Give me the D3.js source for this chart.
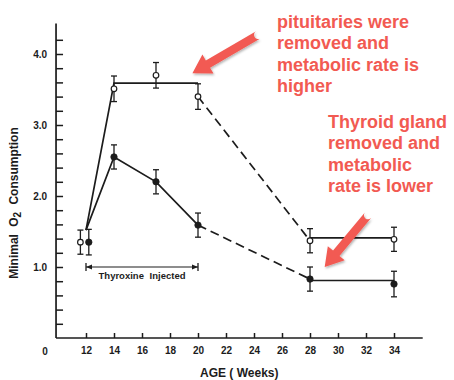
<!DOCTYPE html>
<html>
<head>
<meta charset="utf-8">
<script src="https://cdn.jsdelivr.net/npm/d3@7"></script>
<style>
  html, body { margin: 0; padding: 0; background: #fff; }
  svg { display: block; }
</style>
</head>
<body>
<div id="chart"></div>
<script>
// ---- data ----
const xTickWeeks = [12, 14, 16, 18, 20, 22, 24, 26, 28, 30, 32, 34];
const yMinorTicks = [0.2,0.4,0.6,0.8,1.0,1.2,1.4,1.6,1.8,2.0,2.2,2.4,2.6,2.8,3.0,3.2,3.4,3.6,3.8,4.0,4.2];
const yLabelTicks = [1.0, 2.0, 3.0, 4.0];

// open circles (pituitaries removed)
const openWeeks = [11.6, 14, 17, 20, 28, 34];
const openMeans = [1.35, 3.51, 3.70, 3.40, 1.37, 1.39];
const openErr   = [0.17, 0.18, 0.18, 0.18, 0.17, 0.17];
const openSolidA = [[12, 1.52], [14, 3.59], [20, 3.59]];
const openDashed = [[20, 3.40], [28, 1.37]];
const openSolidB = [[28, 1.41], [34, 1.41]];

// filled circles (thyroid removed)
const filledWeeks = [12.2, 14, 17, 20, 28, 34];
const filledMeans = [1.35, 2.55, 2.20, 1.59, 0.83, 0.76];
const filledErr   = [0.18, 0.17, 0.17, 0.17, 0.17, 0.18];
const filledSolidA = [[12, 1.52], [14, 2.55], [17, 2.20], [20, 1.59]];
const filledDashed = [[20, 1.59], [28, 0.83]];
const filledSolidB = [[28, 0.81], [34, 0.81]];

// thyroxine injection period
const injectionRange = [12, 20];
const injectionLevel = 1.0;

// annotations
const note1Lines = ["pituitaries were", "removed and", "metabolic rate is", "higher"];
const note2Lines = ["Thyroid gland", "removed and", "metabolic", "rate is lower"];
// arrows in data units: [tailWeek, tailValue, tipWeek, tipValue]
const arrows = [[24.3, 4.27, 19.6, 3.73], [32.15, 1.73, 29.05, 1.00]];

// ---- chart ----
const W = 454, H = 380;
const ink = "#1c1c1c";
const red = "#f25a52";

const svg = d3.select("#chart").append("svg").attr("width", W).attr("height", H);

const defs = svg.append("defs");
const f = defs.append("filter").attr("id", "shadow").attr("x", "-30%").attr("y", "-30%").attr("width", "160%").attr("height", "160%");
f.append("feDropShadow").attr("dx", 1).attr("dy", 1.5).attr("stdDeviation", 1.2).attr("flood-color", "#000").attr("flood-opacity", 0.3);

const x = d3.scaleLinear().domain([12, 34]).range([86, 394]);
const y = d3.scaleLinear().domain([0, 4]).range([338, 54]);

const axisX0 = x(9.86), axisX1 = x(36.05);
const axisY0 = y(0), axisYTop = y(4.43);

// axes lines
svg.append("line").attr("x1", axisX0).attr("x2", axisX0).attr("y1", axisY0).attr("y2", axisYTop)
  .attr("stroke", ink).attr("stroke-width", 1.7);
svg.append("line").attr("x1", axisX0).attr("x2", axisX1).attr("y1", axisY0).attr("y2", axisY0)
  .attr("stroke", ink).attr("stroke-width", 1.7);

// x axis ticks
const gx = svg.append("g").attr("transform", `translate(0,${axisY0})`)
  .call(d3.axisBottom(x).tickValues(xTickWeeks).tickSizeInner(-5).tickSizeOuter(0).tickPadding(9).tickFormat(d3.format("d")));
gx.select(".domain").remove();
gx.selectAll(".tick line").attr("stroke", ink).attr("stroke-width", 1.5);
gx.selectAll(".tick text").attr("fill", ink).attr("font-family", "Liberation Sans, Arial, sans-serif")
  .attr("font-weight", "bold").attr("font-size", 10);

// y axis ticks
const gy = svg.append("g").attr("transform", `translate(${axisX0},0)`)
  .call(d3.axisLeft(y).tickValues(yMinorTicks).tickSizeInner(-7).tickSizeOuter(0).tickPadding(9)
    .tickFormat(d => yLabelTicks.some(v => Math.abs(v - d) < 1e-6) ? d3.format(".1f")(d) : ""));
gy.select(".domain").remove();
gy.selectAll(".tick line").attr("stroke", ink).attr("stroke-width", 1.5);
gy.selectAll(".tick text").attr("fill", ink).attr("font-family", "Liberation Sans, Arial, sans-serif")
  .attr("font-weight", "bold").attr("font-size", 10);

// origin "0"
svg.append("text").attr("x", axisX0 - 11).attr("y", axisY0 + 17).attr("text-anchor", "middle")
  .attr("font-family", "Liberation Sans, Arial, sans-serif").attr("font-weight", "bold").attr("font-size", 10)
  .attr("fill", ink).text("0");

// axis titles
svg.append("text").attr("x", 200).attr("y", 377).attr("font-family", "Liberation Sans, Arial, sans-serif")
  .attr("font-weight", "bold").attr("font-size", 12).attr("fill", ink).attr("xml:space", "preserve").text("AGE ( Weeks)");

const yt = svg.append("text").attr("transform", "translate(18,203) rotate(-90)").attr("text-anchor", "middle")
  .attr("font-family", "Liberation Sans, Arial, sans-serif").attr("font-weight", "bold").attr("font-size", 12)
  .attr("fill", ink).attr("word-spacing", 4);
yt.append("tspan").text("Minimal O");
yt.append("tspan").attr("dy", 3).attr("font-size", 10).text("2");
yt.append("tspan").attr("dy", -3).text(" Consumption");

// lines
const line = d3.line().x(d => x(d[0])).y(d => y(d[1]));
[openSolidA, openSolidB, filledSolidA, filledSolidB].forEach(seg => {
  svg.append("path").attr("d", line(seg)).attr("fill", "none").attr("stroke", ink).attr("stroke-width", 1.7);
});
[openDashed, filledDashed].forEach(seg => {
  svg.append("path").attr("d", line(seg)).attr("fill", "none").attr("stroke", ink).attr("stroke-width", 1.7)
    .attr("stroke-dasharray", "9,5");
});

// error bars + markers
function series(weeks, means, errs, open) {
  const g = svg.append("g");
  weeks.forEach((w, i) => {
    const cx = x(w);
    const top = y(means[i] + errs[i]), bot = y(means[i] - errs[i]);
    g.append("line").attr("x1", cx).attr("x2", cx).attr("y1", top).attr("y2", bot).attr("stroke", ink).attr("stroke-width", 1.3);
    g.append("line").attr("x1", cx - 3).attr("x2", cx + 3).attr("y1", top).attr("y2", top).attr("stroke", ink).attr("stroke-width", 1.3);
    g.append("line").attr("x1", cx - 3).attr("x2", cx + 3).attr("y1", bot).attr("y2", bot).attr("stroke", ink).attr("stroke-width", 1.3);
    g.append("circle").attr("cx", cx).attr("cy", y(means[i])).attr("r", open ? 2.8 : 3.2)
      .attr("fill", open ? "#fff" : ink).attr("stroke", ink).attr("stroke-width", open ? 1.2 : 0.8);
  });
}
series(openWeeks, openMeans, openErr, true);
series(filledWeeks, filledMeans, filledErr, false);

// thyroxine bracket
const bx0 = x(injectionRange[0]), bx1 = x(injectionRange[1]), by = y(injectionLevel);
svg.append("line").attr("x1", bx0).attr("x2", bx1).attr("y1", by).attr("y2", by).attr("stroke", ink).attr("stroke-width", 1.2);
[bx0, bx1].forEach((bx, i) => {
  svg.append("line").attr("x1", bx).attr("x2", bx).attr("y1", by - 4).attr("y2", by + 4).attr("stroke", ink).attr("stroke-width", 1.3);
  const dir = i === 0 ? 1 : -1;
  svg.append("path").attr("d", `M${bx},${by} L${bx + dir * 6},${by - 2.5} L${bx + dir * 6},${by + 2.5} Z`).attr("fill", ink);
});
svg.append("text").attr("x", (bx0 + bx1) / 2).attr("y", by + 12).attr("text-anchor", "middle")
  .attr("font-family", "Liberation Sans, Arial, sans-serif").attr("font-weight", "bold").attr("font-size", 9.5)
  .attr("fill", ink).attr("word-spacing", 3).text("Thyroxine Injected");

// annotations
function note(lines, x0, y0) {
  const t = svg.append("text").attr("font-family", "Liberation Sans, Arial, sans-serif").attr("font-weight", "bold")
    .attr("font-size", 18).attr("fill", red);
  lines.forEach((l, i) => t.append("tspan").attr("x", x0).attr("y", y0 + i * 21.4).text(l));
}
note(note1Lines, 277, 28);
note(note2Lines, 328, 128);

// arrows
arrows.forEach(a => {
  const tx = x(a[0]), ty = y(a[1]), hx = x(a[2]), hy = y(a[3]);
  const dx = hx - tx, dy = hy - ty, len = Math.hypot(dx, dy);
  const ux = dx / len, uy = dy / len, px = -uy, py = ux;
  const shaft = 4.2, head = 11, headLen = 18;
  const bxp = hx - ux * headLen, byp = hy - uy * headLen;
  const pts = [
    [tx + px * shaft, ty + py * shaft],
    [bxp + px * shaft, byp + py * shaft],
    [bxp + px * head, byp + py * head],
    [hx, hy],
    [bxp - px * head, byp - py * head],
    [bxp - px * shaft, byp - py * shaft],
    [tx - px * shaft, ty - py * shaft]
  ];
  const d = "M" + pts.map(p => p.join(",")).join(" L") +
    ` A${shaft},${shaft} 0 0,1 ${pts[0][0]},${pts[0][1]} Z`;
  svg.append("path").attr("d", d).attr("fill", red).attr("filter", "url(#shadow)");
});
</script>
</body>
</html>
